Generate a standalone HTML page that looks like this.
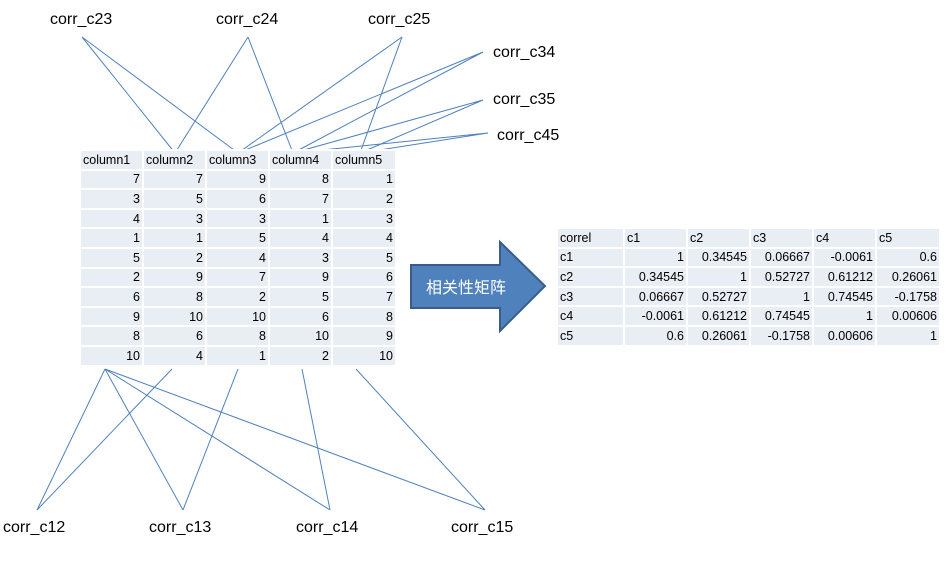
<!DOCTYPE html>
<html><head><meta charset="utf-8"><style>
body{margin:0;width:946px;height:568px;background:#fff;position:relative;overflow:hidden;font-family:"Liberation Sans","Noto Sans CJK SC",sans-serif}
.l{position:absolute;font-size:16px;color:#000;line-height:16px}
table{position:absolute;border-collapse:collapse;font-size:12.5px;color:#000;table-layout:fixed}
tr{height:19.6px}
td{background:#e9edf4;border:2px solid #fff;padding:0 2px;line-height:14px;text-align:right;overflow:hidden;white-space:nowrap}
tr:first-child td, td.h{text-align:left}
</style></head><body>
<svg width="946" height="568" style="position:absolute;left:0;top:0" stroke="#4f81bd" stroke-width="1" fill="none">
<path d="M82 37L175 153M82 37L238 153M248 37L175 153M248 37L293 153M402 37L238 153M402 37L360 153M483 52L238 153M483 52L293 153M483 100L293 153M483 100L360 153M488 133L293 153M488 133L360 153"/>
<path d="M105 369L37 510M105 369L183 510M105 369L330 510M105 369L485 510M172 369L37 510M238 369L183 510M302 369L330 510M356 369L485 510"/>
<path d="M411 265H500V242L545 286L500 331V308H411Z" fill="#4f81bd" stroke="#385d8a" stroke-width="2"/>
</svg>
<div class="l" style="left:50px;top:12px">corr_c23</div>
<div class="l" style="left:216px;top:12px">corr_c24</div>
<div class="l" style="left:368px;top:12px">corr_c25</div>
<div class="l" style="left:493px;top:45px">corr_c34</div>
<div class="l" style="left:493px;top:92px">corr_c35</div>
<div class="l" style="left:497px;top:128px">corr_c45</div>
<div class="l" style="left:3px;top:520px">corr_c12</div>
<div class="l" style="left:149px;top:520px">corr_c13</div>
<div class="l" style="left:296px;top:520px">corr_c14</div>
<div class="l" style="left:451px;top:520px">corr_c15</div>
<div style="position:absolute;left:426px;top:276px;color:#fff;font-size:16px;font-family:'Noto Sans CJK SC',sans-serif;line-height:20px">相关性矩阵</div>
<table style="left:79px;top:149px;width:316px">
<colgroup><col style="width:63px"><col style="width:63px"><col style="width:63px"><col style="width:63px"><col style="width:64px"></colgroup>
<tr><td>column1</td><td>column2</td><td>column3</td><td>column4</td><td>column5</td></tr>
<tr><td>7</td><td>7</td><td>9</td><td>8</td><td>1</td></tr>
<tr><td>3</td><td>5</td><td>6</td><td>7</td><td>2</td></tr>
<tr><td>4</td><td>3</td><td>3</td><td>1</td><td>3</td></tr>
<tr><td>1</td><td>1</td><td>5</td><td>4</td><td>4</td></tr>
<tr><td>5</td><td>2</td><td>4</td><td>3</td><td>5</td></tr>
<tr><td>2</td><td>9</td><td>7</td><td>9</td><td>6</td></tr>
<tr><td>6</td><td>8</td><td>2</td><td>5</td><td>7</td></tr>
<tr><td>9</td><td>10</td><td>10</td><td>6</td><td>8</td></tr>
<tr><td>8</td><td>6</td><td>8</td><td>10</td><td>9</td></tr>
<tr><td>10</td><td>4</td><td>1</td><td>2</td><td>10</td></tr>
</table>
<table style="left:556px;top:227px;width:383px">
<colgroup><col style="width:67px"><col style="width:63px"><col style="width:63px"><col style="width:63px"><col style="width:63px"><col style="width:64px"></colgroup>
<tr><td>correl</td><td>c1</td><td>c2</td><td>c3</td><td>c4</td><td>c5</td></tr>
<tr><td class="h">c1</td><td>1</td><td>0.34545</td><td>0.06667</td><td>-0.0061</td><td>0.6</td></tr>
<tr><td class="h">c2</td><td>0.34545</td><td>1</td><td>0.52727</td><td>0.61212</td><td>0.26061</td></tr>
<tr><td class="h">c3</td><td>0.06667</td><td>0.52727</td><td>1</td><td>0.74545</td><td>-0.1758</td></tr>
<tr><td class="h">c4</td><td>-0.0061</td><td>0.61212</td><td>0.74545</td><td>1</td><td>0.00606</td></tr>
<tr><td class="h">c5</td><td>0.6</td><td>0.26061</td><td>-0.1758</td><td>0.00606</td><td>1</td></tr>
</table>
</body></html>
